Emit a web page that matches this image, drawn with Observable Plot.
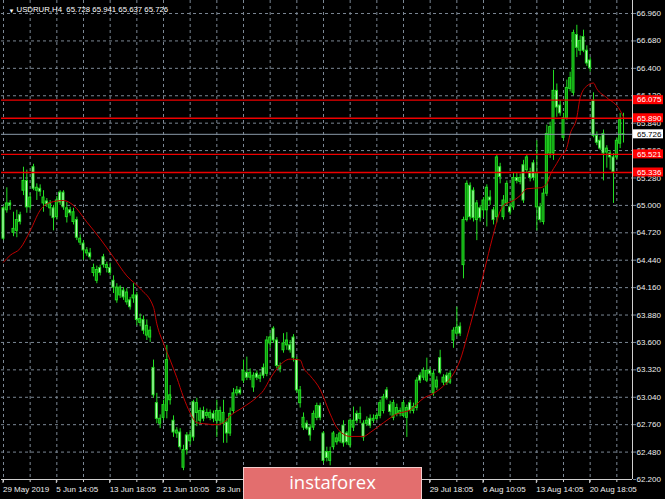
<!DOCTYPE html>
<html><head><meta charset="utf-8">
<script src="https://cdn.jsdelivr.net/npm/d3@7"></script>
<script src="https://cdn.jsdelivr.net/npm/@observablehq/plot@0.6"></script>
<style>
html,body{margin:0;padding:0;background:#000;overflow:hidden;}
#wrap{position:relative;width:665px;height:499px;overflow:hidden;}
#logo{position:absolute;left:243px;top:467px;width:179px;height:40px;background:#e36e6e;border:1px solid #f3cccc;box-sizing:border-box;}
#logo div{position:absolute;left:0;right:0;top:5px;text-align:center;color:#fff;font-family:"Open Sans",sans-serif;font-size:18.5px;line-height:18.5px;}
</style></head>
<body><div id="wrap"><div id="logo"><div>instaforex</div></div></div>
<script>
const symbol = "USDRUR,H4";
const open = [
64.97,64.95,65.02,64.72,64.74,64.90,65.15,65.25,64.98,65.39,
65.15,65.17,65.02,65.04,64.97,64.97,64.88,65.13,65.13,64.88,
64.95,64.83,64.85,64.62,64.61,64.51,64.51,64.31,64.23,64.36,
64.47,64.36,64.36,64.23,64.03,64.08,64.13,64.01,64.03,64.05,
64.08,63.80,63.83,63.67,63.65,63.34,62.98,62.77,62.83,62.90,
63.01,62.80,62.67,62.68,62.32,62.65,62.59,62.99,62.88,62.80,
62.90,62.85,62.83,62.87,62.80,62.80,62.77,62.78,62.67,62.90,
63.08,63.11,63.21,63.29,63.24,63.14,63.28,63.23,63.34,63.28,
63.59,63.74,63.62,63.33,63.52,63.57,63.57,63.65,63.42,62.98,
62.73,62.77,62.73,62.73,62.83,62.95,62.67,62.48,62.39,62.53,
62.58,62.59,62.75,62.67,62.55,62.73,62.87,62.82,62.77,62.77,
62.82,62.80,62.82,62.85,62.90,63.11,62.96,62.83,62.87,62.87,
62.85,62.83,62.98,62.90,62.93,63.26,63.24,63.21,63.31,63.08,
63.14,63.44,63.19,63.26,63.19,63.62,63.69,63.76,64.39,64.85,
65.20,65.15,64.85,64.97,64.95,64.95,65.08,64.95,64.88,65.39,
64.88,65.02,64.98,64.98,65.28,65.24,65.41,65.36,65.34,65.43,
64.98,64.98,64.83,65.12,65.53,65.53,66.17,66.02,65.69,65.89,
66.19,66.15,66.74,66.58,66.72,66.58,66.48,66.07,65.71,65.66,
65.73,65.54,65.53,65.49,65.49,65.63,65.728];
const high = [
64.99,65.18,65.05,64.93,64.95,64.93,65.39,65.36,65.12,65.42,
65.22,65.21,65.15,65.07,65.05,65.00,65.09,65.15,65.15,65.03,
64.98,64.97,64.88,64.70,64.64,64.57,64.56,64.40,64.38,64.39,
64.50,64.42,64.41,64.28,64.20,64.18,64.16,64.15,64.06,64.20,
64.11,63.89,63.87,63.83,63.76,63.42,63.08,62.86,63.01,63.57,
63.16,62.85,62.73,62.72,62.55,62.68,62.70,63.01,63.03,62.93,
62.94,62.92,62.91,62.90,63.01,62.94,63.01,62.82,62.93,63.13,
63.15,63.14,63.42,63.45,63.33,63.29,63.31,63.29,63.38,63.66,
63.69,63.76,63.65,63.39,63.69,63.70,63.62,63.68,63.45,63.15,
62.88,62.80,62.76,62.90,62.98,62.98,62.69,62.53,62.53,62.69,
62.66,62.69,62.80,62.69,62.82,62.94,62.90,62.94,62.80,62.84,
62.86,62.86,62.88,63.01,63.07,63.14,63.00,63.01,62.97,62.93,
63.01,62.96,63.01,62.98,63.24,63.29,63.34,63.44,63.34,63.31,
63.25,63.52,63.27,63.29,63.31,63.75,63.96,63.80,64.88,65.25,
65.23,65.18,65.05,65.00,65.08,65.21,65.15,64.98,65.51,65.43,
65.10,65.25,65.02,65.33,65.33,65.32,65.46,65.51,65.38,65.46,
65.66,65.02,65.17,65.82,65.85,66.38,66.24,66.07,65.94,66.28,
66.36,66.79,66.84,66.73,66.79,66.63,66.51,66.15,65.75,65.70,
65.77,65.61,65.56,65.53,65.69,65.94,65.941];
const low = [
64.64,64.92,64.95,64.68,64.67,64.80,65.10,64.92,64.95,65.15,
65.05,65.09,64.93,64.98,64.89,64.74,64.85,65.00,64.95,64.82,
64.89,64.80,64.64,64.59,64.44,64.48,64.44,64.27,64.20,64.28,
64.36,64.31,64.28,64.10,64.00,64.05,64.03,63.98,63.93,64.00,
63.77,63.76,63.68,63.62,63.60,63.03,62.77,62.72,62.80,62.82,
62.96,62.63,62.62,62.50,62.29,62.45,62.55,62.59,62.74,62.76,
62.79,62.82,62.80,62.78,62.63,62.75,62.57,62.57,62.64,62.87,
63.05,63.06,63.18,63.21,63.21,63.09,63.21,63.19,63.23,63.25,
63.54,63.59,63.33,63.29,63.49,63.52,63.49,63.40,63.08,62.93,
62.70,62.70,62.59,62.70,62.80,62.80,62.36,62.38,62.34,62.50,
62.55,62.57,62.53,62.55,62.52,62.69,62.77,62.77,62.59,62.74,
62.72,62.77,62.80,62.82,62.87,63.01,62.85,62.80,62.84,62.84,
62.83,62.63,62.87,62.87,62.90,63.18,63.21,63.19,63.25,63.05,
63.11,63.27,63.16,63.16,63.17,63.54,63.66,63.66,64.25,64.83,
64.85,64.83,64.64,64.83,64.87,64.78,65.00,64.80,64.82,65.22,
64.85,64.99,64.90,64.95,65.22,65.21,65.02,65.33,65.24,65.25,
64.74,64.82,64.80,65.09,65.48,65.46,65.90,65.91,65.66,65.87,
66.16,66.12,66.51,66.53,66.56,66.42,66.36,65.69,65.61,65.56,
65.25,65.38,65.36,65.02,65.46,65.58,65.637];
const close = [
64.66,65.02,65.00,64.76,64.85,64.83,65.25,64.98,65.08,65.17,
65.18,65.14,65.08,65.01,65.02,64.87,65.05,65.03,64.98,64.97,
64.92,64.93,64.67,64.66,64.54,64.54,64.47,64.36,64.34,64.31,
64.39,64.39,64.31,64.16,64.16,64.16,64.06,64.11,63.96,64.08,
63.83,63.84,63.72,63.77,63.72,63.06,62.82,62.82,62.96,63.42,
63.06,62.68,62.70,62.53,62.50,62.50,62.65,62.63,62.98,62.90,
62.82,62.88,62.88,62.82,62.90,62.90,62.88,62.67,62.87,63.08,
63.11,63.08,63.31,63.24,63.29,63.26,63.24,63.26,63.26,63.62,
63.65,63.62,63.36,63.36,63.59,63.62,63.52,63.44,63.11,63.11,
62.83,62.72,62.65,62.87,62.95,62.83,62.39,62.42,62.48,62.67,
62.62,62.67,62.57,62.58,62.80,62.80,62.80,62.87,62.63,62.80,
62.75,62.82,62.85,62.98,63.04,63.03,62.89,62.98,62.93,62.90,
62.98,62.93,62.90,62.94,63.21,63.21,63.31,63.31,63.28,63.28,
63.21,63.29,63.24,63.19,63.28,63.72,63.75,63.69,64.85,65.22,
64.88,64.87,65.02,64.87,65.05,65.18,65.05,64.85,65.49,65.29,
65.05,65.22,64.93,65.28,65.25,65.28,65.05,65.49,65.28,65.28,
65.33,64.85,65.12,65.73,65.80,66.17,66.00,65.94,65.89,66.20,
66.30,66.76,66.61,66.68,66.58,66.45,66.40,65.71,65.64,65.58,
65.53,65.58,65.49,65.34,65.66,65.87,65.726];

const maBar = [0,2,5,8,11,14,18,21,25,29,33,37,41,45,46,48,50,52,54,56,58,60,64,66,68,72,76,78,80,82,86,89,90,92,95,98,100,104,108,110,114,118,122,126,129,133,135,137,139,141,143,145,147,149,150,153,155,157,161,163,164,166,167,169,170,172,173,175,177,178,181,185,186];
const maValue = [64.42,64.49,64.56,64.74,64.95,65.03,65.05,65.00,64.83,64.66,64.47,64.28,64.15,63.96,63.79,63.59,63.42,63.24,63.04,62.88,62.78,62.77,62.76,62.78,62.85,62.94,63.04,63.11,63.23,63.33,63.43,63.42,63.34,63.26,63.12,62.87,62.73,62.64,62.64,62.68,62.78,62.87,62.91,63.03,63.08,63.19,63.28,63.42,63.65,63.90,64.16,64.44,64.71,64.94,65.00,65.05,65.10,65.17,65.18,65.22,65.31,65.43,65.49,65.59,65.73,65.90,66.10,66.22,66.25,66.19,66.10,65.97,65.90];

const levels = [66.075, 65.890, 65.521, 65.336];
const currentPrice = 65.726;
const yTicks = [62.20,62.48,62.76,63.04,63.32,63.60,63.88,64.16,64.44,64.72,65.00,65.28,65.56,65.84,66.12,66.40,66.68,66.96];
const xLabelBars = [0,16,32,48,64,128,144,160,176];
const xLabels = ["29 May 2019","5 Jun 14:05","13 Jun 18:05","21 Jun 10:05","28 Jun 14:05","29 Jul 18:05","6 Aug 10:05","13 Aug 14:05","20 Aug 18:05"];
const gridBars = [0,8,16,24,32,40,48,56,64,72,80,88,96,104,112,120,128,136,144,152,160,168,176,184];

const candles = open.map((o, i) => ({i, open: o, high: high[i], low: low[i], close: close[i], bull: close[i] > o}));
const ma = maBar.map((b, k) => ({i: b, v: maValue[k]}));
const xDomain = [-0.6, 188.7];
const yDomain = [62.2, 67.093];
const grid = "#7b8794";
const green = "#22dd22";
const fmt = d3.format(".3f");
const last = candles[candles.length - 1];
const title = `${symbol}\u00a0\u00a0${fmt(last.open)} ${fmt(last.high)} ${fmt(last.low)} ${fmt(last.close)}`;

const chart = Plot.plot({
  width: 665, height: 499,
  marginLeft: 1, marginRight: 33, marginTop: 0, marginBottom: 20,
  style: {background: "#000", color: "#e8e8e8", fontFamily: "Liberation Sans", fontSize: "8px"},
  x: {domain: xDomain, axis: null},
  y: {domain: yDomain, axis: null},
  marks: [
    Plot.ruleY(yTicks, {stroke: grid, strokeDasharray: "3,3"}),
    Plot.ruleX(gridBars, {stroke: grid, strokeDasharray: "3,3"}),
    Plot.ruleX(candles, {x: "i", y1: "low", y2: "high", stroke: green, strokeWidth: 1}),
    Plot.rect(candles, {
      x1: d => d.i - 0.3, x2: d => d.i + 0.3,
      y1: "open", y2: "close",
      fill: d => d.bull ? "#0a8a0a" : "#d4ffd4",
      stroke: green, strokeWidth: 1
    }),
    Plot.line(ma, {x: "i", y: "v", stroke: "#c00000", strokeWidth: 1, curve: "monotone-x"}),
    Plot.ruleY([currentPrice], {stroke: "#8a9aa8", strokeWidth: 1}),
    Plot.ruleY(levels, {stroke: "#ee0000", strokeWidth: 1.4}),
    Plot.ruleX([xDomain[1]], {stroke: "#d0d0d0", strokeWidth: 1}),
    Plot.ruleY([yDomain[0]], {stroke: "#d0d0d0", strokeWidth: 1}),
    Plot.axisY({anchor: "right", ticks: yTicks, tickFormat: fmt, tickSize: 3, tickPadding: 1, stroke: grid, fill: "#eeeeee", fontSize: 8, label: null}),
    Plot.axisX({anchor: "bottom", ticks: gridBars, tickFormat: () => "", tickSize: 3, stroke: "#d0d0d0", label: null}),
    Plot.axisX({anchor: "bottom", ticks: xLabelBars, tickFormat: (d, k) => xLabels[k], tickSize: 4, tickPadding: 3, textAnchor: "start", dx: -0.5, stroke: "#d0d0d0", fill: "#eeeeee", fontSize: 8, label: null}),
    Plot.text(["\u25BC"], {frameAnchor: "top-left", dx: 7, dy: 8, fill: "#ffffff", fontSize: 6}),
    Plot.text([title], {frameAnchor: "top-left", dx: 15, dy: 6, lineAnchor: "top", textAnchor: "start", fill: "#ffffff", fontSize: 7.8})
  ]
});

// price labels on the right axis
const svg = d3.select(chart);
const ys = chart.scale("y");
const xr = chart.scale("x").range[1];
const boxes = levels.map(v => ({v, bg: "#ff0000", fg: "#ffffff"})).concat([{v: currentPrice, bg: "#ffffff", fg: "#000000"}]);
const g = svg.append("g").attr("text-anchor", "start");
for (const b of boxes) {
  const yy = ys.apply(b.v);
  g.append("rect").attr("x", xr + 1).attr("y", yy - 4.5).attr("width", 30).attr("height", 9).attr("fill", b.bg);
  g.append("text").attr("x", xr + 5).attr("y", yy).attr("dy", "0.35em").attr("text-anchor", "start")
    .attr("fill", b.fg).attr("font-size", 8).attr("font-family", "Liberation Sans").text(fmt(b.v));
}
document.getElementById("wrap").prepend(chart);
</script>
</body></html>
